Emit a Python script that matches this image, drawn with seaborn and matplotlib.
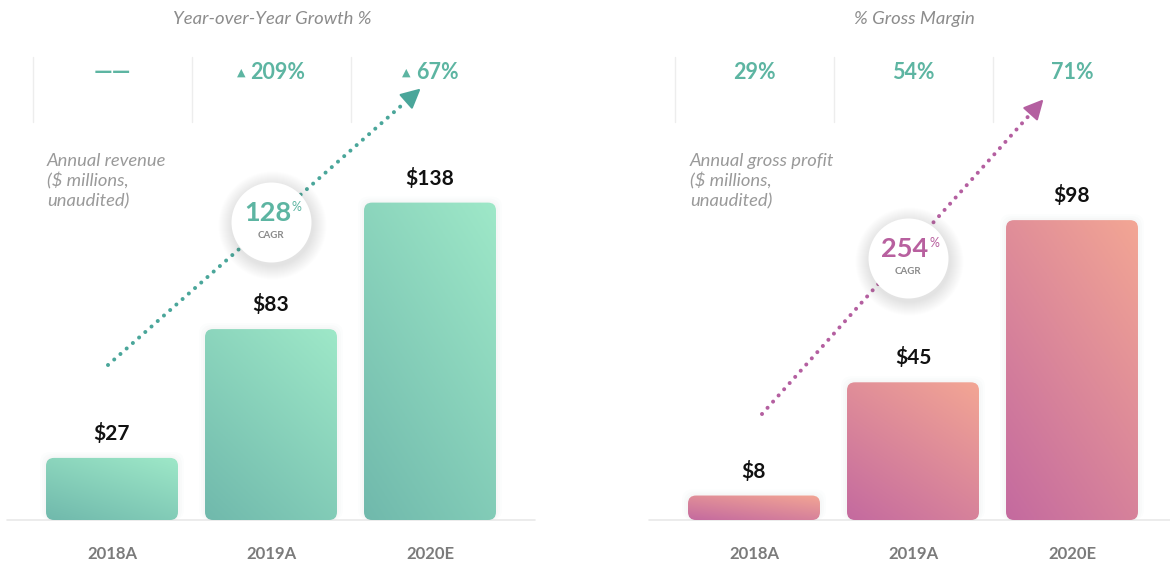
import numpy as np
import matplotlib
matplotlib.use('Agg')
import matplotlib.pyplot as plt
import matplotlib.colors as mcolors
from matplotlib.patches import FancyBboxPatch, Polygon
import seaborn as sns

# 图像尺寸 (像素)
W, H = 1170, 561

# 数据
years = ['2018A', '2019A', '2020E']
revenue = [27, 83, 138]
gross_profit = [8, 45, 98]
yoy_growth = [None, 209, 67]
gross_margin = [29, 54, 71]
revenue_cagr = 128
profit_cagr = 254

# 颜色
TEAL = '#5db5a2'
GREEN_LIGHT, GREEN_DARK = '#9ee8c8', '#70b9ac'
PINK_LIGHT, PINK_DARK = '#f3a694', '#c46a9f'
ARROW_GREEN = '#4aa69a'
ARROW_PINK = '#b45fa0'
GRAY_TXT = '#9a9a9a'

sns.set_theme(style='white')
plt.rcParams['font.family'] = ['Lato', 'DejaVu Sans']

fig = plt.figure(figsize=(W / 100, H / 100), dpi=100)

BASE = 520      # 基线像素位置 (从上往下)
SPACING = 159   # 柱间距 (像素)


def make_panel(x0, x1, c0, k, values, light, dark):
    """x0/x1: 坐标轴像素范围, c0: 第一根柱中心, k: 每单位像素数"""
    ax = fig.add_axes([x0 / W, (H - BASE) / H, (x1 - x0) / W, BASE / H])
    sns.barplot(x=years, y=values, ax=ax, width=0.83, color=dark, zorder=2)
    ax.set_xlim((x0 - c0) / SPACING, (x1 - c0) / SPACING)
    ax.set_ylim(0, BASE / k)
    sns.despine(ax=ax, left=True, bottom=True)
    ax.set_yticks([])
    ax.set_xlabel('')
    ax.set_ylabel('')
    ax.tick_params(axis='x', length=0, pad=19, labelsize=12, labelcolor='#7b7b7b')
    for t in ax.get_xticklabels():
        t.set_fontweight('bold')
    ax.patch.set_alpha(0)
    ax.axhline(0, color='#e9e9e9', lw=1.2, zorder=1, clip_on=False)

    # 圆角渐变柱
    rad = 8 / SPACING
    asp = SPACING / k
    light_c = np.array(mcolors.to_rgb(light))
    dark_c = np.array(mcolors.to_rgb(dark))
    u = np.linspace(0, 1, 80)
    U, V = np.meshgrid(u, u)
    g = (0.4 * U + 0.6 * V)[..., None]
    img = dark_c * (1 - g) + light_c * g
    for p in list(ax.patches):
        x, y, w, h = p.get_x(), p.get_y(), p.get_width(), p.get_height()
        p.set_visible(False)
        # 淡阴影
        for j, a in enumerate([0.025, 0.02, 0.015]):
            off = (j + 1) * 2
            sh = FancyBboxPatch((x - off / SPACING, y), w + 2 * off / SPACING, h + off / k,
                                boxstyle=f'round,pad=0,rounding_size={rad * 1.3}',
                                mutation_aspect=asp, fc='#7a8a8a', ec='none', alpha=a,
                                zorder=1.5, clip_on=False)
            ax.add_patch(sh)
        box = FancyBboxPatch((x, y), w, h, boxstyle=f'round,pad=0,rounding_size={rad}',
                             mutation_aspect=asp, fc='none', ec='none', zorder=2)
        ax.add_patch(box)
        im = ax.imshow(img, extent=(x, x + w, y, y + h), origin='lower',
                       aspect='auto', zorder=2)
        im.set_clip_path(box)
    ax.set_xlim((x0 - c0) / SPACING, (x1 - c0) / SPACING)
    ax.set_ylim(0, BASE / k)

    # 数值标签
    for i, v in enumerate(values):
        ax.annotate(f'${v}', (i, v), xytext=(0, 17.5), textcoords='offset points',
                    ha='center', va='center', fontsize=15, fontweight='bold', color='#111111')

    # 顶部分隔竖线
    for xv in [-0.5, 0.5, 1.5]:
        ax.plot([xv, xv], [(BASE - 57) / k, (BASE - 122) / k], color='#ededed', lw=1,
                clip_on=False, zorder=1)
    return ax


ax1 = make_panel(7, 535, 112, 2.3, revenue, GREEN_LIGHT, GREEN_DARK)
ax2 = make_panel(649, 1170, 754, 3.06, gross_profit, PINK_LIGHT, PINK_DARK)

# 叠加坐标轴 (像素坐标)
ov = fig.add_axes([0, 0, 1, 1], zorder=5)
ov.set_xlim(0, W)
ov.set_ylim(H, 0)
ov.axis('off')
ov.patch.set_alpha(0)

# 标题
ov.text(272, 19, 'Year-over-Year Growth %', ha='center', va='center', fontsize=13.3,
        style='italic', color='#8c8c8c')
ov.text(914, 19, '% Gross Margin', ha='center', va='center', fontsize=13.3,
        style='italic', color='#8c8c8c')

# 同比增长
fig.canvas.draw()
renderer = fig.canvas.get_renderer()
for i, g in enumerate(yoy_growth):
    cx = 112 + i * SPACING
    if g is None:
        ov.text(cx, 71, '——', ha='center', va='center', fontsize=17, fontweight='bold',
                color=TEAL)
        continue
    t = ov.text(cx + 7, 72, f'{g}%', ha='center', va='center', fontsize=15.5,
                fontweight='bold', color=TEAL)
    bb = t.get_window_extent(renderer)
    ov.text(bb.x0 - 5, 73, '▲', ha='right', va='center', fontsize=8,
            color=TEAL, family=['DejaVu Sans'])

# 毛利率
for i, m in enumerate(gross_margin):
    ov.text(754 + i * SPACING, 72, f'{m}%', ha='center', va='center', fontsize=15.5,
            fontweight='bold', color=TEAL)

# 说明文字
ov.text(47, 181, 'Annual revenue\n($ millions,\nunaudited)', ha='left', va='center',
        fontsize=13.2, style='italic', color=GRAY_TXT, linespacing=1.25)
ov.text(690, 181, 'Annual gross profit\n($ millions,\nunaudited)', ha='left', va='center',
        fontsize=13.2, style='italic', color=GRAY_TXT, linespacing=1.25)


def dotted_arrow(p0, p1, color):
    p0 = np.array(p0, float)
    p1 = np.array(p1, float)
    d = (p1 - p0) / np.linalg.norm(p1 - p0)
    n = np.array([-d[1], d[0]])
    base = p1 - d * 17
    ov.plot([p0[0], base[0]], [p0[1], base[1]], color=color, lw=2.9,
            linestyle=(0, (0.01, 2.05)), dash_capstyle='round', zorder=3)
    ov.add_patch(Polygon([p1, base + n * 8.5, base - n * 8.5], closed=True, fc=color,
                         ec=color, lw=1.5, joinstyle='round', zorder=3))


dotted_arrow((108, 365), (419, 90), ARROW_GREEN)
dotted_arrow((762, 414), (1042, 101), ARROW_PINK)


def cagr_badge(cx, cy, val, color):
    for r in np.arange(54, 40, -1.0):
        ov.scatter([cx + 1], [cy + 3], s=(2 * r * 0.72) ** 2, color='#8a8a8a', alpha=0.012,
                   linewidths=0, zorder=4)
    ov.scatter([cx], [cy], s=(80 * 0.72) ** 2, color='white', linewidths=0, zorder=4)
    ov.text(cx - 3, cy - 9, f'{val}', ha='center', va='center', fontsize=19.5,
            color=color, fontweight='bold', zorder=6)
    ov.text(cx + 21, cy - 15, '%', ha='left', va='center', fontsize=9,
            color=color, zorder=6)
    ov.text(cx, cy + 13, 'CAGR', ha='center', va='center', fontsize=7,
            color='#8a8a8a', fontweight='bold', zorder=6)


cagr_badge(271, 222, revenue_cagr, TEAL)
cagr_badge(908, 258, profit_cagr, '#b8609f')

fig.savefig('out.png', dpi=100, facecolor='white')
